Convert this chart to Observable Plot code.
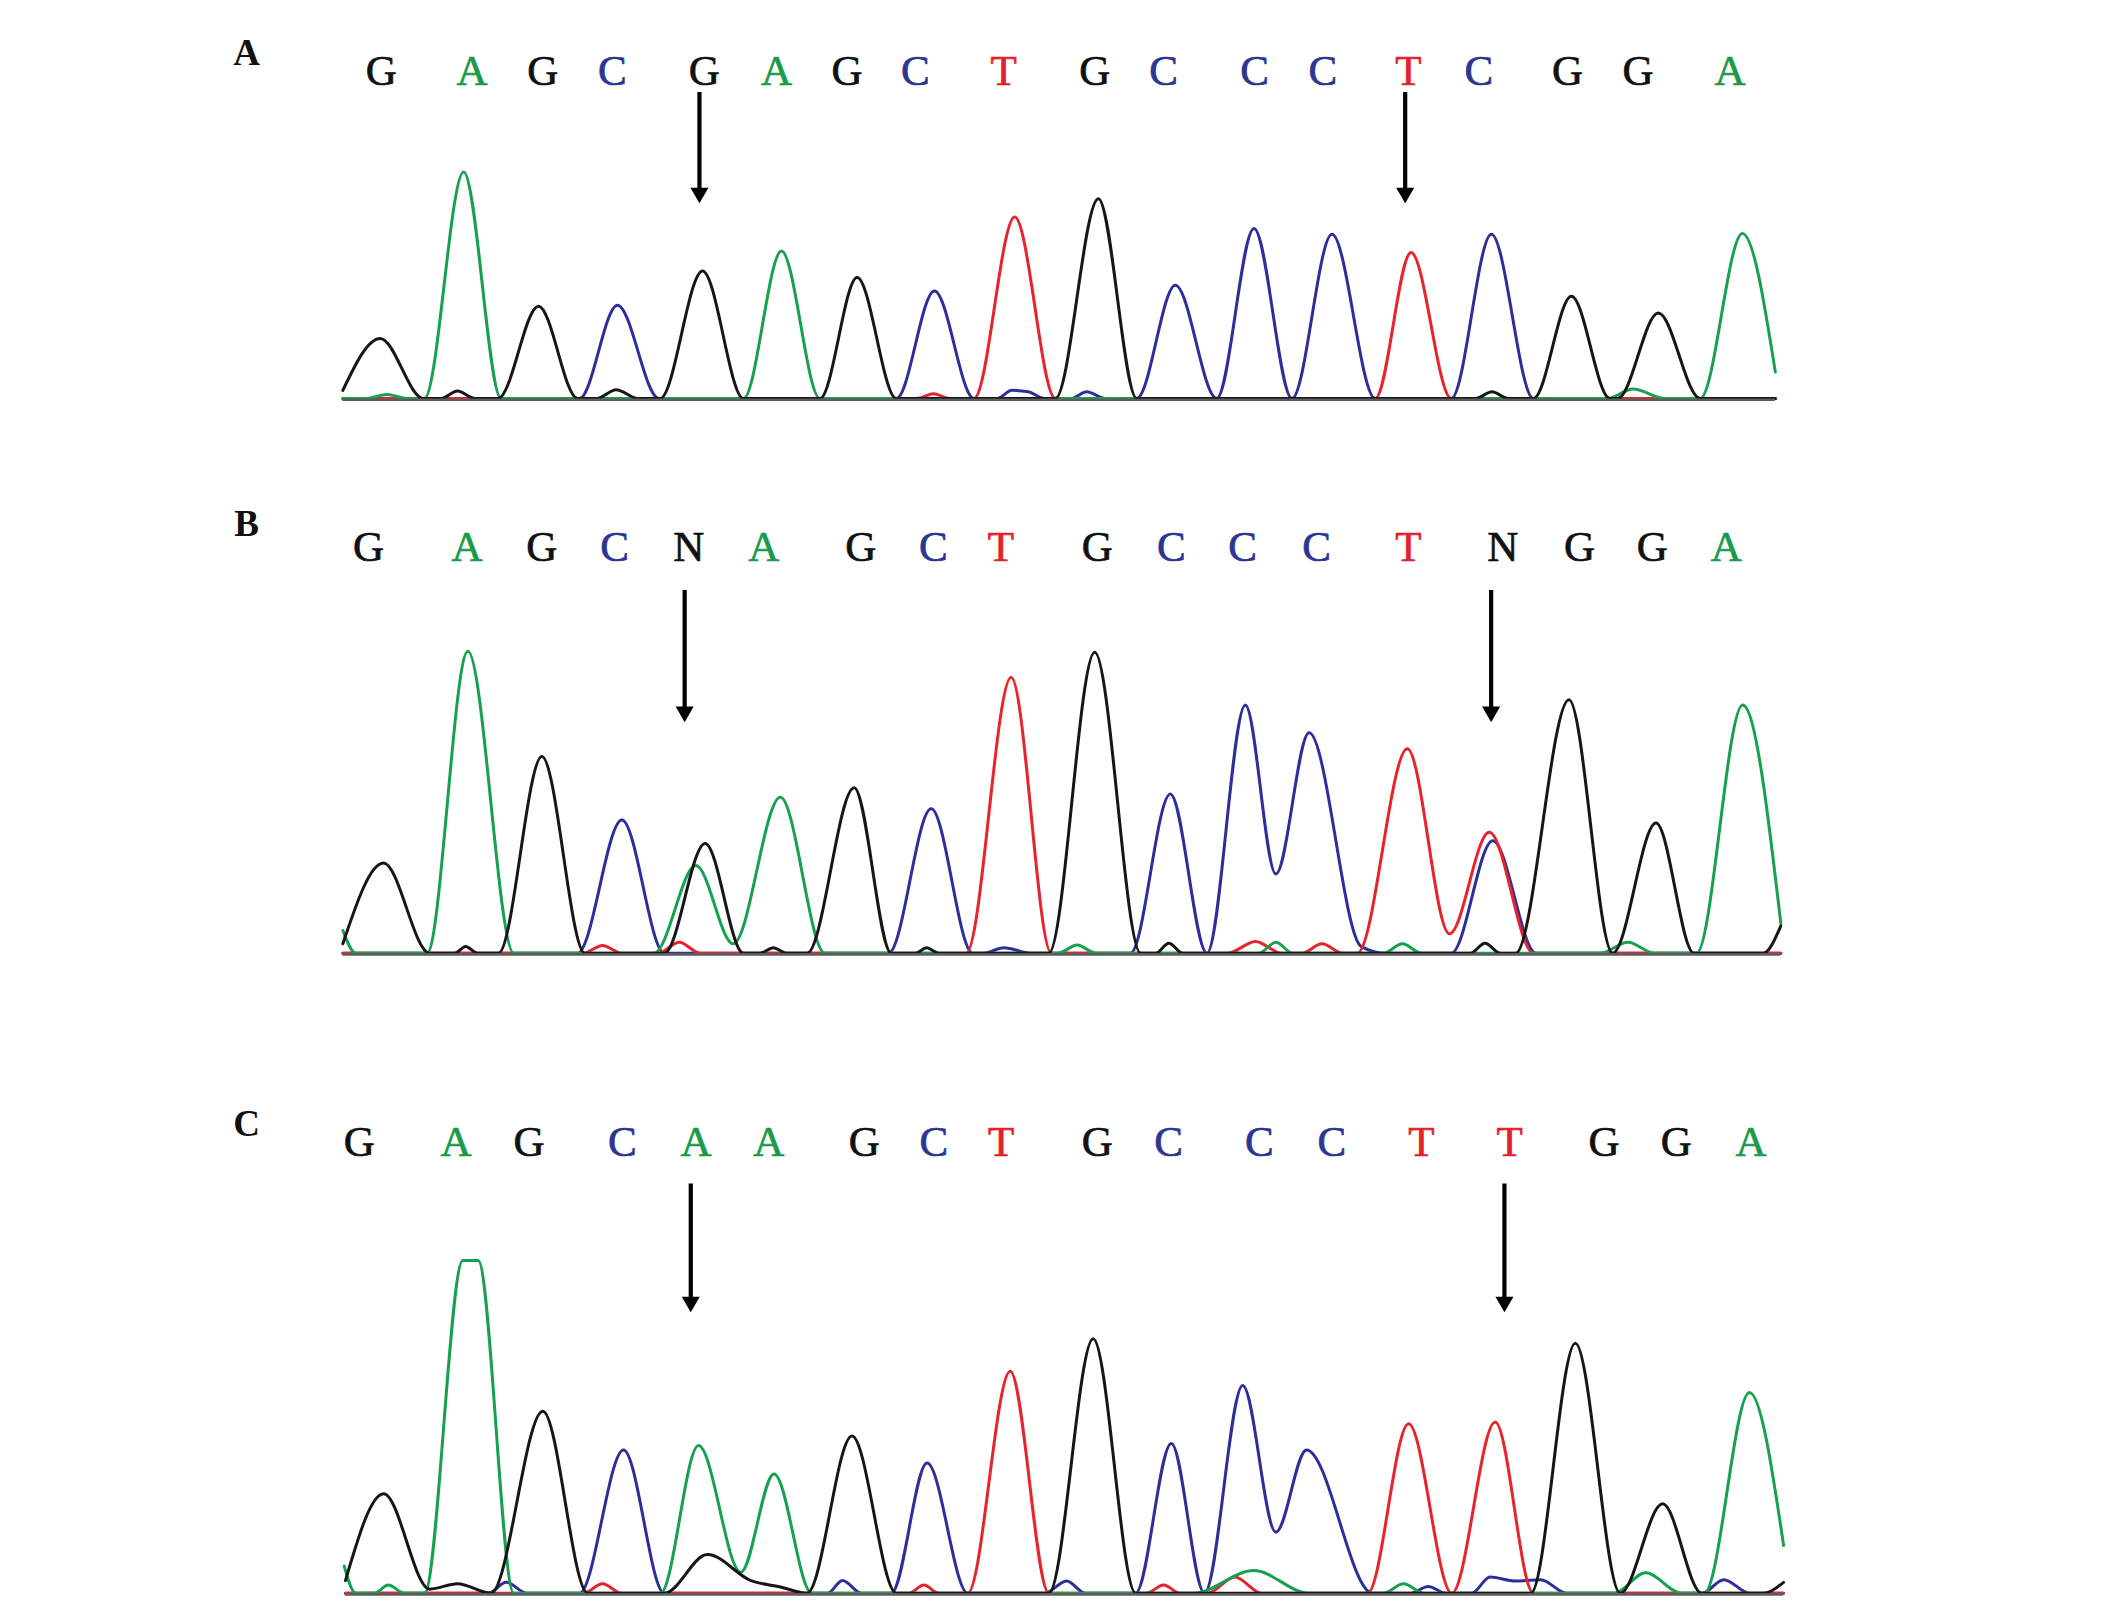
<!DOCTYPE html>
<html><head><meta charset="utf-8">
<script src="https://cdn.jsdelivr.net/npm/d3@7"></script>
<script src="https://cdn.jsdelivr.net/npm/@observablehq/plot@0.6"></script>
<style>
html,body{margin:0;padding:0;background:#fff;}
#fig{position:relative;width:2126px;height:1609px;background:#fff;overflow:hidden;}
#fig > svg{position:absolute;left:0;}
</style></head><body><div id="fig"></div>
<script>
// ---------- base calls (scan position) ----------
const seqA = "GAGCGAGCTGCCCTCGGA".split("");
const seqB = "GAGCNAGCTGCCCTNGGA".split("");
const seqC = "GAGCAAGCTGCCCTTGGA".split("");
const callPosA = [280.8,347.7,400,451.2,519,572.3,624.3,674.7,739.8,807,857.8,925,975.2,1038.4,1090.4,1155.8,1207.7,1275.5];
const callPosB = [271.5,344,399.3,452.9,507.7,563,634.4,688,737.9,809,863.6,916,970.7,1038.4,1108,1164.5,1218.3,1272.9];
const callPosC = [264.6,336,389.9,458.7,512.9,566.7,637,688.3,738,809,861.6,928.5,982,1048,1113,1182.6,1236,1291];

// ---------- traces: [scan position, signal] ----------
const traceA_G = [[252.5,6],[280,44.3],[312,0],[325,0],[337,5.5],[350,0],[367,0],[396.8,68.1],[425.6,0],[440,0],[454,6.5],[470,0],[486.5,0],[517.8,94.1],[548,0],[604.4,0],[631.8,89.3],[660.7,0],[778,0],[809.7,147.4],[838,0],[1088,0],[1100,5],[1112,0],[1130.6,0],[1158.6,75.4],[1187,0],[1192.7,0],[1222.7,63.1],[1253.6,0],[1309,0]];
const traceA_A = [[252.5,0],[270,0],[285,3],[300,0],[312.7,0],[341.6,167.1],[369.2,0],[548,0],[576,108.7],[604.4,0],[1185,0],[1204,7],[1228,0],[1253.6,0],[1284.7,121.7],[1309,19.5]];
const traceA_C = [[252.5,0],[427,0],[455,68.8],[485.6,0],[660.7,0],[688.8,79.3],[718,0],[735,0],[746,6],[758,5],[770,0],[790,0],[801,5],[815,0],[838,0],[866.5,83.5],[897,0],[924.5,125.3],[952.5,0],[982,121.1],[1013.9,0],[1070,0],[1099.6,121.1],[1130.6,0],[1309,0]];
const traceA_T = [[252.5,0],[676,0],[688,3.5],[700,0],[718,0],[748,133.9],[778,0],[1013.9,0],[1040.3,107.7],[1070,0],[1309,0]];

const traceB_G = [[252.5,7],[282.5,66.5],[316.5,0],[335,0],[343,5],[352,0],[367.3,0],[399.3,145],[431,0],[489.6,0],[519.7,81],[547.9,0],[560,0],[570,4],[580,0],[594.9,0],[629.6,122],[657,0],[675,0],[683,4],[692,0],[773.2,0],[807,222],[840.9,0],[852,0],[861.7,7.4],[872,0],[1084,0],[1094.9,7.4],[1106,0],[1117.5,0],[1156.8,187],[1189,0],[1221,96],[1249,0],[1300,0],[1313,20]];
const traceB_A = [[252.5,16.7],[262,0],[314.6,0],[344.7,222.7],[378.6,0],[482,0],[512.9,64.6],[540.4,6.9],[575.2,115],[608,0],[780,0],[794,6],[808,0],[928,0],[940.6,8],[953,0],[1020,0],[1034,7],[1048,0],[1180,0],[1200.2,8],[1220,0],[1250.9,0],[1284.9,183],[1313.1,21.6]];
const traceB_C = [[252.5,0],[425.6,0],[458.3,98.3],[489.6,0],[655,0],[686.4,106.5],[717,0],[725,0],[740,4],[760,0],[833.4,0],[862.8,117.5],[889.8,0],[918.1,183],[940.6,58.5],[965.1,162.5],[1003.5,5],[1021,0],[1070,0],[1100.6,83],[1132.6,0],[1313,0]];
const traceB_T = [[252.5,0],[430,0],[444,5.7],[458,0],[485,0],[500.6,8.1],[516,0],[712.3,0],[745.4,203.5],[775,0],[905,0],[925.6,8.6],[945,0],[960,0],[974.6,7],[990,0],[1000.7,0],[1037.6,150.7],[1068.6,14.3],[1098,89.2],[1130.7,0],[1313,0]];

const traceC_G = [[254.4,9.3],[282.6,73.3],[316.5,3],[337,7],[361.7,0],[400,134.2],[433.1,0],[489.6,0],[521.4,28.5],[553.5,9.3],[576,4.4],[594.9,0],[628,116],[660.7,0],[773.2,0],[805.9,187.6],[837.2,0],[1128.7,0],[1161.5,184.3],[1194.6,0],[1225.9,65.9],[1254.7,0],[1300,0],[1315.1,8]];
const traceC_A = [[253.5,20],[262,0],[276,0],[286,6],[298,0],[312.7,0],[341,245.3],[352.3,245.3],[378.6,0],[486.8,0],[514.8,108.9],[546,15.5],[570.5,88],[598.4,0],[880,0],[924.3,16.7],[965,0],[1020,0],[1034.7,7],[1050,0],[1190,0],[1213.3,15],[1240,0],[1256.6,0],[1289.9,148],[1315.1,35.2]];
const traceC_C = [[254.4,0],[360,0],[373,8.1],[388,0],[427,0],[459.5,105.7],[489.6,0],[610,0],[621,9.3],[635,0],[657,0],[683.4,96],[713.4,0],[770,0],[786.4,9],[800,0],[837.2,0],[863.5,110.4],[888,0],[916.2,153.1],[940.6,45],[963.2,105.7],[1012,0],[1040,0],[1053,5],[1066,0],[1085,0],[1098.6,12],[1117,9],[1136,10],[1155,0],[1255,0],[1271,10],[1290,0],[1315,0]];
const traceC_T = [[254.4,0],[430,0],[444,7],[458,0],[670,0],[681,6],[692,0],[713.4,0],[744.7,163.7],[773.2,0],[845,0],[857.8,6],[870,0],[890,0],[910.5,12],[930,0],[1008.3,0],[1038.5,124.9],[1070.4,0],[1102.4,126.2],[1130.6,0],[1315,0]];

// ---------- arrows (scan position, top signal, tip signal) ----------
const arrowsA = [[515.5,225.7,144],[1036,225.7,144]];
const arrowsB = [[504.6,267.5,170.4],[1099.4,267.5,170.4]];
const arrowsC = [[509.1,301.8,207.2],[1109.2,301.8,207.2]];

// panel labels and rows
const panelLabels = ["A","B","C"];
const labelLevel = [255,316.2,346.1];
const callLevel = [241.7,299.6,332.3];
const traceSpan = [[252.5,1309],[252.5,1313],[254.4,1315]];

// ---------- styles ----------
const traceColor = {G:"#161616", A:"#17a04e", C:"#2c2f9a", T:"#e8232c"};
const letterColor = {G:"#111111", A:"#199a4c", C:"#2b3592", T:"#e4222b", N:"#111111"};
const serif = "'Liberation Serif','Times New Roman',Times,serif";
const PX = 2126/1568;

const layout = [
  {top:0, height:470, base:398},
  {top:470, height:550, base:482.7},
  {top:1020, height:589, base:572.7}
];
const seqs = [seqA, seqB, seqC];
const calls = [callPosA, callPosB, callPosC];
const traces = [
  {G:traceA_G, A:traceA_A, C:traceA_C, T:traceA_T},
  {G:traceB_G, A:traceB_A, C:traceB_C, T:traceB_T},
  {G:traceC_G, A:traceC_A, C:traceC_C, T:traceC_T}
];
const arrows = [arrowsA, arrowsB, arrowsC];

const fig = document.getElementById("fig");
layout.forEach((L, p) => {
  const letters = seqs[p].map((b, i) => ({base: b, x: calls[p][i]}));
  const marks = [];
  for (const b of ["C","T","A","G"]) {
    marks.push(Plot.line(traces[p][b], {x: d => d[0], y: d => d[1], stroke: traceColor[b], strokeWidth: 3, curve: "monotone-x", strokeLinejoin: "round"}));
  }
  marks.push(Plot.ruleY([0], {x1: traceSpan[p][0], x2: traceSpan[p][1], stroke: "#5c5c5c", strokeWidth: 2.6, dy: 1.2}));
  marks.push(Plot.text(letters, {x: "x", y: () => callLevel[p], text: "base", fill: d => letterColor[d.base], stroke: d => letterColor[d.base], strokeWidth: 0.7, fontSize: 43, fontFamily: serif}));
  marks.push(Plot.text([panelLabels[p]], {x: () => 181.5, y: () => labelLevel[p], text: d => d, fontSize: 37, fontWeight: "bold", fontFamily: serif, fill: "#111"}));
  marks.push(Plot.ruleX(arrows[p], {x: d => d[0], y1: d => d[1], y2: d => d[2], stroke: "#000", strokeWidth: 4.2, insetBottom: 8}));
  marks.push(Plot.dot(arrows[p], {x: d => d[0], y: d => d[2], symbol: "triangle", r: 6.7, rotate: 180, fill: "#000", stroke: "none", dy: -10.4}));

  const svg = Plot.plot({
    width: 2126, height: L.height,
    marginTop: 0, marginBottom: 0, marginLeft: 0, marginRight: 0,
    style: {background: "transparent", overflow: "visible"},
    x: {domain: [0, 1568], range: [0, 2126], axis: null},
    y: {domain: [0, 300], range: [L.base, L.base - 300 * PX], axis: null},
    color: {type: "identity"},
    marks
  });
  svg.style.top = L.top + "px";
  fig.appendChild(svg);
});
</script></body></html>
